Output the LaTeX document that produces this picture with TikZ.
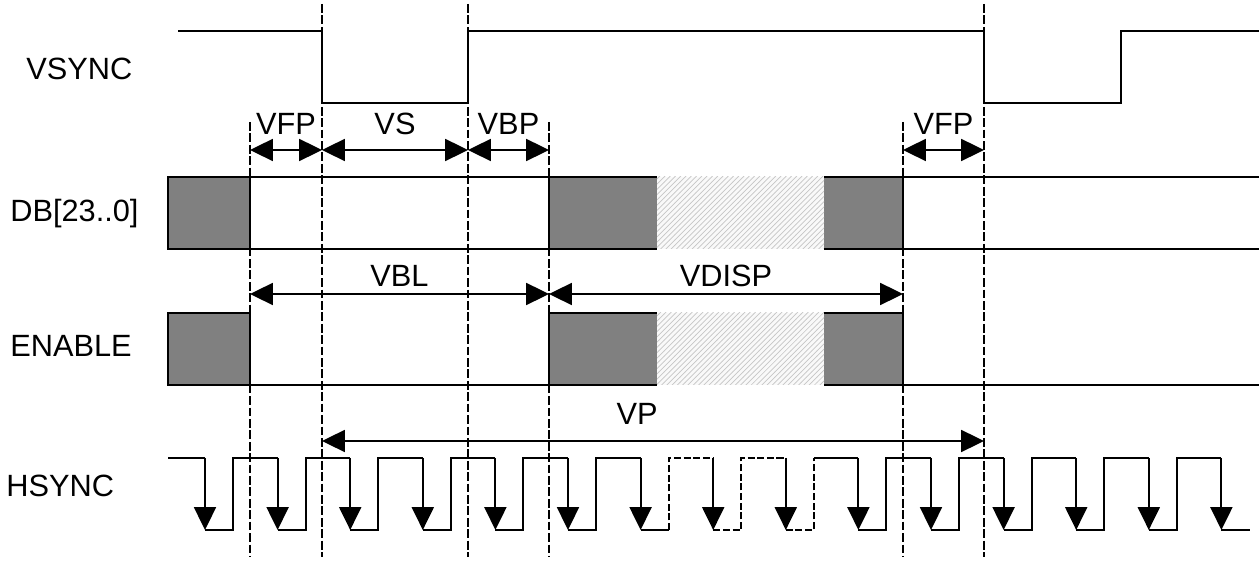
\documentclass[tikz,border=0pt]{standalone}
\usepackage{fontspec}
\setmainfont{Liberation Sans}
\usetikzlibrary{arrows.meta, patterns}
\tikzset{>={Triangle[length=13pt, width=12.5pt]}}
\tikzset{
    sig/.style={line width=1.1pt},
    guide/.style={line width=1.1pt, dash pattern=on 5pt off 1.5pt},
    brk/.style={line width=1.1pt, dash pattern=on 4pt off 1.5pt},
    bus/.style={fill=gray},
    gap/.style={fill=gray!5, postaction={pattern=north east lines, pattern color=gray!45}},
    lbl/.style={inner sep=0pt, anchor=base west}
}

\begin{document}
\begin{tikzpicture}[x=0.02cm, y=-0.02cm, font=\fontsize{17.5}{20}\selectfont]
    \useasboundingbox (0,0) rectangle (1259,567);

    \node[lbl] (vsync) at (26,80) {VSYNC};
    \node[lbl] (db) at (10,222) {DB[23..0]};
    \node[lbl] (enable) at (10,357) {ENABLE};
    \node[lbl] (hsync) at (6,497) {HSYNC};

    \draw[sig] (178,31) -- (322,31) -- (322,103) -- (468,103) -- (468,31) -- (984,31)
        -- (984,103) -- (1121,103) -- (1121,31) -- (1259,31);

    \fill[bus] (168,177) rectangle (250,249) (549,177) rectangle (657,249) (824,177) rectangle (903,249);
    \fill[gap] (657,177) rectangle (824,249);
    \draw[sig] (168,177) rectangle (250,249);
    \draw[sig] (250,177) -- (657,177) (824,177) -- (1259,177) (250,249) -- (657,249) (824,249) -- (1259,249)
        (549,177) -- (549,249) (903,177) -- (903,249);

    \fill[bus] (168,313) rectangle (250,385) (549,313) rectangle (657,385) (824,313) rectangle (903,385);
    \fill[gap] (657,313) rectangle (824,385);
    \draw[sig] (168,313) rectangle (250,385);
    \draw[sig] (250,385) -- (657,385) (549,385) |- (657,313) (824,313) -| (903,385) -- (1259,385)
        (824,385) -- (903,385);

    \draw[sig] (168,458) -- (205,458);
    \foreach \k [evaluate=\k as \f using 205+72.6*\k] in {0,...,14}
        \draw[sig, ->] (\f,458) -- (\f,530);
    \foreach \k [evaluate=\k as \f using 205+72.6*\k, evaluate=\k as \g using 205+72.6*(\k+1)]
        in {0,1,2,3,4,5,9,10,11,12,13}
        \draw[sig] (\f,530) -- (\f+28,530) -- (\f+28,458) -- (\g,458);
    \draw[sig] (640.6,530) -- (668.6,530);
    \draw[brk] (668.6,530) -- (668.6,458) -- (713.2,458);
    \draw[brk] (713.2,530) -- (741.2,530) -- (741.2,458) -- (785.8,458);
    \draw[brk] (785.8,530) -- (813.8,530) -- (813.8,458);
    \draw[sig] (813.8,458) -- (858.4,458);
    \draw[sig] (1221.4,530) -- (1250,530);

    \foreach \x/\t in {250/122, 322/4, 468/4, 549/122, 903/122, 984/4}
        \draw[guide] (\x,\t) -- (\x,557);

    \foreach \n/\x in {a/250, b/322, c/468, d/549, e/903, f/984} {
        \coordinate (top\n) at (\x,150);
        \coordinate (mid\n) at (\x,294);
        \coordinate (low\n) at (\x,441);
    }
    \draw[sig, <->] (topa) -- node[above=8pt, inner sep=0pt] (vfpa) {VFP} (topb);
    \draw[sig, <->] (topb) -- node[above=8pt, inner sep=0pt] (vs) {VS} (topc);
    \draw[sig, <->] (topc) -- node[above=8pt, inner sep=0pt] (vbp) {VBP} (topd);
    \draw[sig, <->] (tope) -- node[above=8pt, inner sep=0pt] (vfpb) {VFP} (topf);
    \draw[sig, <->] (mida) -- node[above=3.5pt, inner sep=0pt] (vbl) {VBL} (midd);
    \draw[sig, <->] (midd) -- node[above=3.5pt, inner sep=0pt] (vdisp) {VDISP} (mide);
    \draw[sig, <->] (lowb) -- node[pos=0.476, above=9pt, inner sep=0pt] (vp) {VP} (lowf);
\end{tikzpicture}
\end{document}
